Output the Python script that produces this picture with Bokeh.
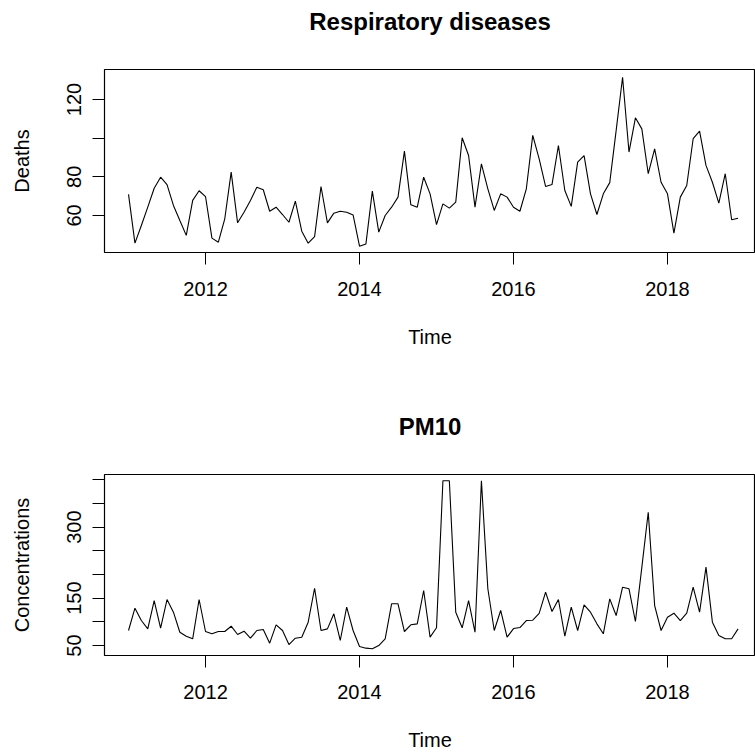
from bokeh.plotting import figure
from bokeh.layouts import column
from bokeh.models import FixedTicker, Range1d, Title
from bokeh.embed import file_html
from bokeh.resources import INLINE

start_year = 2011
n_months = 96
time = [start_year + i / 12 for i in range(n_months)]

deaths = [70.9, 45.7, 54.8, 64.3, 74.1, 79.8, 76.0, 65.2, 57.4, 49.7, 67.8, 72.8,
          69.8, 48.3, 46.2, 58.3, 82.4, 56.2, 61.7, 67.8, 74.6, 73.3, 62.2, 64.3,
          60.5, 56.5, 67.4, 51.9, 45.7, 49.1, 75.0, 56.2, 61.2, 62.2, 61.7, 60.3,
          44.1, 45.3, 72.6, 51.4, 60.0, 64.3, 69.5, 93.3, 65.5, 64.3, 79.8, 71.2,
          55.3, 66.0, 63.8, 66.9, 100.2, 91.0, 64.3, 86.7, 73.8, 62.6, 71.2, 69.5,
          64.3, 62.2, 73.8, 101.4, 89.3, 75.0, 76.0, 96.2, 72.9, 64.7, 87.6, 91.0,
          71.2, 60.5, 71.2, 77.0, 104.0, 131.5, 92.8, 110.5, 104.8, 81.6, 94.5, 77.2,
          71.2, 50.9, 69.5, 75.5, 99.7, 103.6, 85.9, 77.2, 66.4, 81.6, 57.8, 58.6]

pm10 = [81.7, 128.8, 102.8, 85.2, 145.0, 86.6, 147.2, 120.4, 78.1, 69.6, 64.2, 147.2,
        79.6, 74.7, 79.6, 79.6, 90.8, 73.2, 80.3, 65.5, 81.7, 83.8, 54.9, 93.7,
        81.7, 52.1, 65.5, 67.6, 99.3, 171.0, 81.7, 85.2, 117.0, 60.6, 131.0, 81.7,
        47.9, 44.4, 43.0, 50.0, 64.2, 138.1, 138.1, 79.6, 93.7, 95.8, 166.2, 67.6,
        87.4, 398.0, 398.0, 120.4, 87.4, 145.0, 78.0, 398.0, 170.0, 81.7, 124.0, 67.6,
        85.8, 88.0, 102.8, 103.5, 118.0, 162.7, 121.8, 147.2, 69.6, 131.0, 81.7, 136.0,
        120.4, 95.8, 74.7, 148.6, 113.4, 173.2, 169.8, 100.7, 215.0, 331.6, 134.5, 81.7,
        109.8, 118.2, 102.8, 118.2, 173.2, 120.4, 215.5, 99.3, 71.0, 64.2, 64.2, 85.2]

x_ticks = [2012, 2014, 2016, 2018]
deaths_ticks = [60, 80, 100, 120]
deaths_labels = ["60", "80", "", "120"]
pm_ticks = [50, 100, 150, 200, 250, 300, 350, 400]
pm_labels = ["50", "", "150", "", "", "300", "", ""]

FONT = "Liberation Sans"
BORDER_LEFT = 104
WIDTH = 755


def panel(title, ylabel, y, yticks, ylabels, yrange, height, border_top, border_bottom, gap):
    p = figure(width=WIDTH, height=height, output_backend="svg", toolbar_location=None,
               x_range=Range1d(2010.688, 2019.143), y_range=Range1d(*yrange),
               min_border_left=BORDER_LEFT, min_border_right=0,
               min_border_top=border_top, min_border_bottom=border_bottom,
               x_axis_label="Time", y_axis_label=ylabel)
    p.line(time, y, line_color="black", line_width=1.1)
    p.grid.visible = False
    p.background_fill_color = "white"
    p.border_fill_color = "white"
    p.outline_line_color = "black"
    p.outline_line_width = 1.2

    # spacer nearest the frame, then the real title further out
    p.add_layout(Title(text=" ", text_font_size="1px", standoff=gap), "above")
    p.add_layout(Title(text=title, align="center", offset=4, standoff=4,
                       text_font=FONT, text_font_size="24px",
                       text_font_style="bold", text_color="black"), "above")

    p.xaxis.ticker = FixedTicker(ticks=x_ticks)
    p.yaxis.ticker = FixedTicker(ticks=yticks)
    p.yaxis.major_label_overrides = {t: l for t, l in zip(yticks, ylabels)}
    p.yaxis.major_label_orientation = "vertical"
    for ax in (p.xaxis, p.yaxis):
        ax.axis_line_color = None
        ax.minor_tick_line_color = None
        ax.major_tick_in = 0
        ax.major_tick_out = 12
        ax.major_tick_line_color = "black"
        ax.major_label_text_font = FONT
        ax.major_label_text_font_size = "20px"
        ax.major_label_text_color = "black"
        ax.axis_label_text_font = FONT
        ax.axis_label_text_font_size = "20px"
        ax.axis_label_text_font_style = "normal"
        ax.axis_label_text_color = "black"
    p.xaxis.major_label_standoff = 17
    p.xaxis.axis_label_standoff = 27
    p.yaxis.major_label_standoff = 11
    p.yaxis.axis_label_standoff = 32
    return p


p1 = panel("Respiratory diseases", "Deaths", deaths, deaths_ticks, deaths_labels,
           (40.86, 135.5), 378, 69, 126, 30)
p2 = panel("PM10", "Concentrations", pm10, pm_ticks, pm_labels,
           (28.9, 411.3), 376, 96, 99, 30)

layout = column(p1, p2, spacing=0)
open("out.html", "w").write(file_html(layout, INLINE))
